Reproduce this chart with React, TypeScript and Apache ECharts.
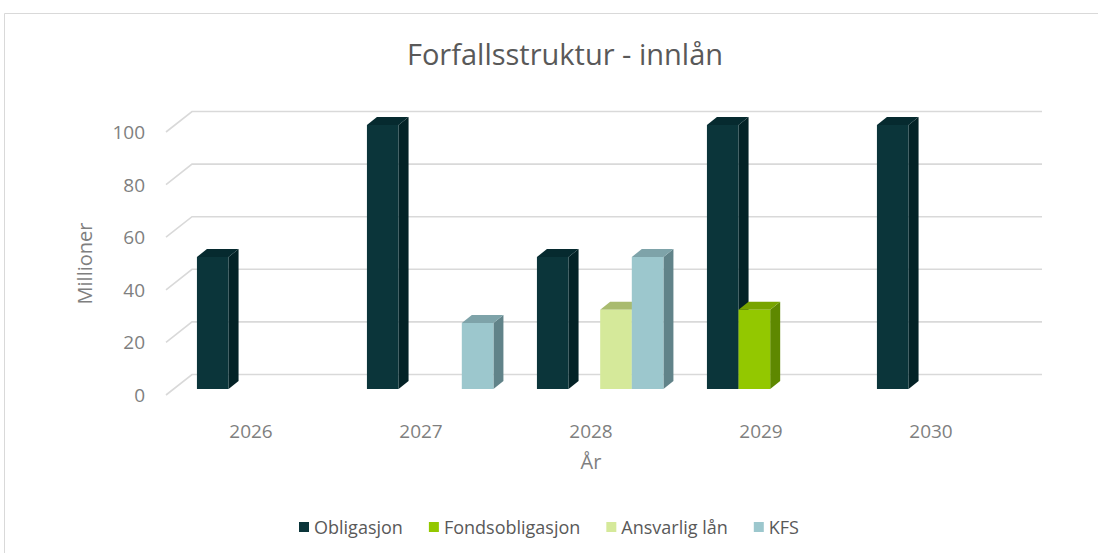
import React, { useEffect, useRef } from "react";
import * as echarts from "echarts";

const years = ["2026", "2027", "2028", "2029", "2030"];
const obligasjon = [50, 100, 50, 100, 100];
const fondsobligasjon = [0, 0, 0, 30, 0];
const ansvarligLan = [0, 0, 30, 0, 0];
const kfs = [0, 25, 50, 0, 0];
const yTicks = [0, 20, 40, 60, 80, 100];

const seriesDefs = [
  { name: "Obligasjon", values: obligasjon, front: "#0b353a", side: "#032226", top: "#062a2f" },
  { name: "Fondsobligasjon", values: fondsobligasjon, front: "#93c800", side: "#5e8800", top: "#78a400" },
  { name: "Ansvarlig lån", values: ansvarligLan, front: "#d5e99a", side: "#a3b46a", top: "#a9bb6f" },
  { name: "KFS", values: kfs, front: "#9cc7cd", side: "#618389", top: "#7ea3a9" },
];

const FONT = "'Open Sans', 'Noto Sans', sans-serif";

export default function App() {
  const ref = useRef<HTMLDivElement>(null);
  useEffect(() => {
    if (!ref.current) return;
    const chart = echarts.init(ref.current, null, { renderer: "svg" });

    const barSeries = seriesDefs.map((s, i) => ({
      type: "custom",
      name: s.name,
      xAxisIndex: 0,
      yAxisIndex: 0,
      z: 10 + i,
      itemStyle: { color: s.front },
      encode: { x: 0, y: 1 },
      data: s.values.map((v, j) => [j, v]),
      renderItem: (params: any, api: any) => {
        const j = api.value(0);
        const v = api.value(1);
        if (!v) return { type: "group", children: [] };
        const base = api.coord([j, 0]);
        const topP = api.coord([j, v]);
        const band = api.size([1, 0])[0];
        const w = band * 0.186;
        const x0 = base[0] - band * 0.318 + i * w;
        const x1 = x0 + w;
        const yb = base[1];
        const yt = topP[1];
        const dx = 10;
        const dy = -8;
        return {
          type: "group",
          children: [
            {
              type: "polygon",
              shape: { points: [[x1, yb], [x1 + dx, yb + dy], [x1 + dx, yt + dy], [x1, yt]] },
              style: { fill: s.side },
            },
            {
              type: "polygon",
              shape: { points: [[x0, yt], [x0 + dx, yt + dy], [x1 + dx, yt + dy], [x1, yt]] },
              style: { fill: s.top },
            },
            {
              type: "rect",
              shape: { x: x0, y: yt, width: w, height: yb - yt },
              style: { fill: s.front },
            },
          ],
        };
      },
    }));

    const gridSeries = {
      type: "custom",
      name: "grid",
      xAxisIndex: 1,
      yAxisIndex: 1,
      z: 1,
      silent: true,
      encode: { x: 0, y: 1 },
      data: yTicks.map((v) => [0, v]),
      renderItem: (params: any, api: any) => {
        const v = api.value(1);
        const p0 = api.coord([0, v]);
        const p1 = api.coord([1, v]);
        const dx = 26;
        const dy = -20.5;
        return {
          type: "polyline",
          shape: { points: [[p0[0], p0[1]], [p0[0] + dx, p0[1] + dy], [p1[0] + dx, p0[1] + dy]] },
          style: { stroke: "#d9d9d9", lineWidth: 1.6, fill: "none" },
        };
      },
    };

    chart.setOption({
      animation: false,
      backgroundColor: "#ffffff",
      title: {
        text: "Forfallsstruktur - innlån",
        left: 560,
        top: 34,
        textAlign: "center",
        textStyle: { fontFamily: FONT, fontSize: 29, fontWeight: "normal", color: "#595959" },
      },
      graphic: [
        {
          type: "rect",
          shape: { x: 4.5, y: 13.5, width: 1200, height: 600 },
          style: { fill: "none", stroke: "#d9d9d9", lineWidth: 1 },
          z: -1,
        },
      ],
      legend: {
        data: seriesDefs.map((s) => s.name),
        icon: "rect",
        itemWidth: 10,
        itemHeight: 10,
        itemGap: 26,
        left: "center",
        top: 513,
        textStyle: { fontFamily: FONT, fontSize: 18, color: "#595959" },
      },
      grid: [
        { left: 166, right: 82, top: 125, bottom: 164 },
        { left: 166, right: 82, top: 132, bottom: 158 },
      ],
      xAxis: [
        {
          type: "category",
          gridIndex: 0,
          data: years,
          axisLine: { show: false },
          axisTick: { show: false },
          axisLabel: { margin: 32, fontFamily: FONT, fontSize: 19, color: "#7f7f7f" },
          name: "År",
          nameLocation: "middle",
          nameGap: 62,
          nameTextStyle: { fontFamily: FONT, fontSize: 20, color: "#7f7f7f" },
        },
        { type: "value", gridIndex: 1, min: 0, max: 1, show: false },
      ],
      yAxis: [
        { type: "value", gridIndex: 0, min: 0, max: 100, show: false },
        {
          type: "value",
          gridIndex: 1,
          min: 0,
          max: 100,
          interval: 20,
          axisLine: { show: false },
          axisTick: { show: false },
          splitLine: { show: false },
          axisLabel: { margin: 21, fontFamily: FONT, fontSize: 19, color: "#7f7f7f" },
          name: "Millioner",
          nameLocation: "middle",
          nameGap: 72,
          nameTextStyle: { fontFamily: FONT, fontSize: 20, color: "#7f7f7f" },
        },
      ],
      series: [gridSeries, ...barSeries],
    });
    return () => chart.dispose();
  }, []);
  return (
    <div
      ref={ref}
      style={{ position: "absolute", left: 0, top: 0, width: 1098, height: 553, background: "#fff" }}
    />
  );
}
